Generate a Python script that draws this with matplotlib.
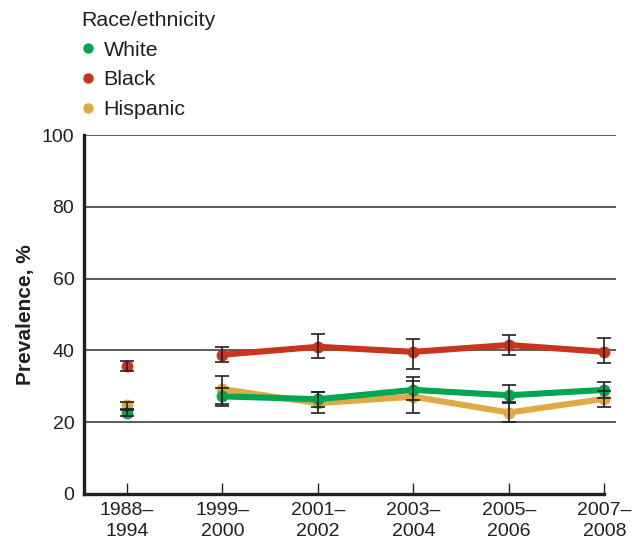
import matplotlib
matplotlib.use("Agg")
import matplotlib.pyplot as plt
from matplotlib.lines import Line2D

plt.rcParams['font.family'] = ['Liberation Sans', 'DejaVu Sans']

periods = ["1988–\n1994", "1999–\n2000", "2001–\n2002", "2003–\n2004", "2005–\n2006", "2007–\n2008"]
white = [22.6, 27.2, 26.4, 29.0, 27.5, 29.0]
white_lo = [21.8, 25.0, 24.3, 26.2, 25.3, 26.8]
white_hi = [23.6, 29.5, 28.5, 31.4, 30.4, 31.2]
black = [35.7, 38.8, 41.0, 39.6, 41.5, 39.6]
black_lo = [34.3, 36.7, 37.8, 34.7, 38.6, 36.6]
black_hi = [37.1, 41.0, 44.6, 43.2, 44.3, 43.4]
hispanic = [24.7, 29.2, 25.3, 27.1, 22.7, 26.5]
hispanic_lo = [23.5, 24.4, 22.6, 22.6, 20.1, 24.2]
hispanic_hi = [25.5, 32.9, 28.3, 32.7, 25.5, 28.6]
yticks = [0, 20, 40, 60, 80, 100]

c_white = "#00A651"
c_black = "#C8341E"
c_hisp = "#DFAA44"
ink = "#231F20"

fig = plt.figure(figsize=(6.35, 5.44), dpi=100)
ax = fig.add_axes([84/635, 1-494/544, 532.4/635, 359/544])

x = list(range(len(periods)))

for yv in yticks[1:]:
    ax.axhline(yv, color="#404040", lw=1.2, zorder=1)

series = [(hispanic, hispanic_lo, hispanic_hi, c_hisp, 2),
          (white, white_lo, white_hi, c_white, 3),
          (black, black_lo, black_hi, c_black, 4)]
for vals, lo, hi, col, z in series:
    err = [[v - l for v, l in zip(vals, lo)], [h - v for v, h in zip(vals, hi)]]
    ax.errorbar(x, vals, yerr=err, fmt="none", ecolor=ink, elinewidth=1.2,
                capsize=4.8, capthick=1.2, zorder=6)
    ax.plot(x[1:], vals[1:], color=col, lw=4.4, solid_capstyle="round", zorder=z)
    ax.plot(x, vals, "o", color=col, ms=7.5, zorder=z + 0.5)

ax.set_xlim(-0.45, 5.125)
ax.set_ylim(0, 100)
ax.set_yticks(yticks)
ax.set_yticklabels([str(v) for v in yticks], fontsize=14, color=ink)
ax.set_xticks(x)
ax.set_xticklabels(periods, fontsize=14, color=ink, linespacing=1.3)
ax.tick_params(axis="y", length=0, pad=7)
ax.tick_params(axis="x", direction="in", length=8, width=1.0, color=ink, pad=6)
for s in ["top", "right"]:
    ax.spines[s].set_visible(False)
ax.spines["left"].set_linewidth(2.4)
ax.spines["left"].set_color(ink)
ax.spines["bottom"].set_linewidth(2.4)
ax.spines["bottom"].set_color(ink)
ax.spines["bottom"].set_bounds(-0.45, 5)
ax.set_ylabel("Prevalence, %", fontsize=15, fontweight="bold", color=ink, labelpad=4.5)

handles = [Line2D([], [], marker="o", ls="none", color=c, ms=6.5) for c in (c_white, c_black, c_hisp)]
leg = fig.legend(handles, ["White", "Black", "Hispanic"], title="Race/ethnicity",
                 loc="upper left", bbox_to_anchor=(81/635, 1-11/544), frameon=False,
                 fontsize=15.4, title_fontsize=15.4, handlelength=0.7, handletextpad=0.35,
                 labelspacing=0.5, borderpad=0, borderaxespad=0, alignment="left")
for t in leg.get_texts():
    t.set_color(ink)
leg.get_title().set_color(ink)

fig.savefig("out.png", dpi=100)
